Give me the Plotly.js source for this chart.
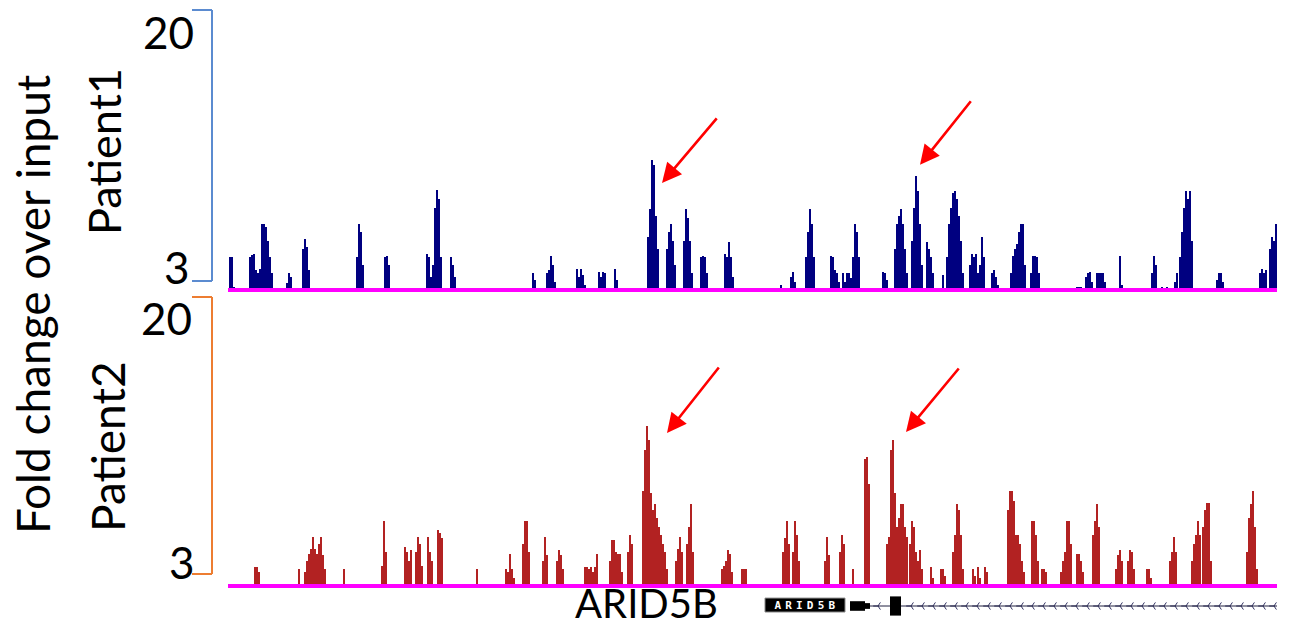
<!DOCTYPE html>
<html><head><meta charset="utf-8">
<script src="https://cdn.plot.ly/plotly-3.0.1.min.js"></script>
<style>html,body{margin:0;padding:0;background:#fff;overflow:hidden}#chart{width:1291px;height:629px}
.annotation[data-index="8"] text{letter-spacing:4.2px}</style>
</head><body><div id="chart"></div>
<script>
// ---- data (genomic bin position, fold change over input) ----
const p1Pos = [
  2,4,6, 22,24,26,28,30,32,34,36,38,40,42,44, 59,61,63, 75,77,79,81,
  129,131,133,135, 157,159,161, 199,201,203, 205,207,209,211,213, 223,225,227, 240, 275,
  305,307, 319,321,323,325,327, 349,351,353,355,357, 371,373,375,377, 387,389,392,
  420,422,424,426,428,430, 439,441,443,445,447, 456,458,460,462,464, 473,475,477,479,
  497,499,501,503,505, 512, 553, 563,565,567, 578,580,582,584,586, 603,605,607,609,611,
  615,617,619,621,623,625,627,629,631, 637, 655,657,659, 667,669,671,673,675,677,679,
  684,686,688,690,692,694, 699,701,703,705, 715, 719,721,723,725,727,729,731,733,735,
  742,744,746,748,750, 752,754,756, 764,766,768,770, 783,785,787,789,791,793,795,797,
  803,805,807,809,811, 849,851,853, 858,860,862,864, 869,871,873,875,877, 892,894,
  924,926,928, 934,939, 947,949, 952,954,956,958,960,962,964, 989,991,993,995, 1009,
  1032,1034,1036,1038, 1042,1044,1046,1048
];
const p1Fold = [
  5.0,5.0,3.2, 5.0,5.1,5.2,4.2,4.0,4.3,7.0,7.0,6.8,6.0,5.0,4.0, 3.4,4.0,3.8, 5.5,6.1,5.6,4.2,
  5.0,7.0,6.5,4.5, 5.0,5.06,4.5, 5.2,5.0,3.8, 4.5,8.0,9.07,8.5,5.0, 5.0,4.5,3.8, 3.1, 3.1,
  4.0,3.6, 4.0,4.2,5.06,4.5,3.5, 4.3,3.8,4.3,3.9,3.3, 4.1,3.8,4.1,4.0, 4.3,3.6,3.1,
  6.2,7.9,10.9,10.6,7.5,5.5, 5.5,6.5,7.0,6.0,4.5, 6.0,7.9,7.4,6.0,4.0, 5.0,5.06,5.0,4.0,
  5.2,5.0,5.9,5.0,3.8, 3.1, 3.3, 3.8,4.1,3.5, 5.0,6.5,7.9,7.0,5.0, 5.06,5.0,4.2,4.0,3.5,
  4.0,3.5,4.0,4.0,3.7,5.0,7.0,6.5,5.0, 3.1, 4.1,4.0,3.6, 5.5,7.0,7.5,7.9,7.0,5.5,4.0,
  6.0,8.0,9.9,9.0,7.0,4.5, 5.9,5.5,5.0,4.0, 3.9, 5.0,7.0,8.0,8.9,9.0,8.5,7.5,6.0,4.0,
  4.5,5.2,5.0,5.2,4.0, 4.5,6.2,5.0, 4.0,4.2,3.8,3.3, 4.0,5.06,5.5,5.8,6.5,7.0,7.0,4.5,
  4.0,5.06,5.06,5.0,4.0, 3.2,3.2,3.2, 3.8,4.0,4.1,3.5, 4.0,4.0,4.0,4.0,3.5, 5.06,3.3,
  4.0,5.06,4.5, 3.2,3.2, 3.5,4.0, 5.0,6.5,8.0,9.0,8.5,9.0,6.0, 3.6,4.0,4.0,3.5, 3.1,
  4.0,4.3,4.0,4.2, 5.5,6.2,6.0,7.0
];
const p2Pos = [
  27,29,31, 39, 71, 77,79,81,83,85,87,89,91,93,95,97, 116, 120, 154,156,158, 177,179,181,183,
  188,190,192,194, 200,202,204, 210,212,214, 249, 253, 278,280,282,284,286, 295,297,299,301,
  315,317,319, 329,331,333,335, 357,359,361,363,365,367,369, 373, 382,384,386,388,390,392,394,
  400,402,404, 415,417,419,421,423,425,427,429,431,433,435,437,439, 448,450,452,454, 459,461,463,465,
  494,496,498,500,502,504, 514,516,518, 555,557,559,561, 565,567,569,571, 597,599,601, 612,614,616, 625,
  637,639,641, 659,661,663,665,667,669,671,673,675,677,679, 682,684,686,688, 690,692,694, 703,705,
  713,715,717, 725,727,729,731,733,735, 745,747,750,752,757,759,
  780,782,784,786,788,790,792,794,796, 804,806,808,810, 814,816,818, 833,835,837,839,841,843,
  849,851,853,855, 865,867,869,871, 888,890,892,894, 900,902,904,906, 919,921,923, 942,944,946,948,
  964,966,968,970,972, 975,977,979,981,983, 1009, 1019,1021,1023,1025,1027,1029
];
const p2Fold = [
  4.1,4.1,3.8, 3.1, 4.0, 3.8,4.5,4.9,5.2,5.9,5.2,4.9,5.5,5.9,4.8,4.0, 4.0, 3.1, 4.2,6.8,5.0, 5.3,5.0,4.5,5.1,
  5.0,5.9,5.5,4.2, 5.9,5.0,4.5, 6.3,6.1,5.8, 4.0, 3.1, 4.0,3.8,4.9,4.0,3.5, 5.5,6.8,6.8,5.0,
  4.5,5.9,4.8, 4.5,5.1,4.8,4.0, 4.1,4.1,4.0,4.1,3.8,4.1,4.9, 3.1, 4.5,5.7,5.7,5.0,4.9,4.9,3.8,
  5.0,6.0,5.5, 8.6,11.0,12.4,11.6,8.5,7.5,7.8,7.0,6.5,6.0,5.5,5.0,4.0, 4.5,5.2,5.9,5.0, 5.5,6.5,7.8,5.0,
  4.0,4.2,4.5,5.1,4.9,3.8, 4.0,4.0,4.0, 5.0,5.8,6.8,5.5, 5.0,6.8,6.0,4.5, 4.5,5.9,4.8, 5.0,6.0,5.5, 4.0,
  10.5,10.6,9.0, 5.5,5.9,11.0,11.6,8.5,6.5,7.0,7.8,7.8,6.5,5.9, 5.5,6.8,6.5,5.0, 4.5,5.1,4.0, 4.1,3.5,
  4.0,4.0,3.6, 5.0,6.0,7.8,7.5,6.0,4.0, 4.0,3.6,4.1,3.5,4.1,3.8,
  7.5,8.6,8.6,8.0,6.0,6.0,5.5,4.5,3.8, 6.8,6.8,6.0,4.5, 4.0,4.0,3.8, 3.8,4.5,5.0,6.8,6.8,5.5,
  4.9,4.9,4.5,3.8, 6.0,6.8,7.8,6.5, 4.0,4.8,5.1,4.5, 4.5,5.1,5.0,4.0, 4.0,4.0,3.5, 4.5,5.0,5.9,5.0,
  4.5,5.5,6.0,6.8,6.0, 6.5,7.5,7.9,7.9,4.5, 3.1, 5.0,7.0,7.8,8.6,6.5,4.0
];
const trackNames = ['Patient1', 'Patient2'];
const yTickLabels = ['20', '3'];
const yAxisTitle = 'Fold change over input';
const geneName = 'ARID5B';
const exonStart = [622, 662];
const exonEnd = [642, 673];
const geneStart = 622, geneEnd = 1049;
const strandMarks = [650,683,694,705,716,727,738,749,760,771,782,793,804,815,826,837,848,859,870,881,892,903,914,925,936,947,958,969,980,991,1002,1013,1024,1035,1046];
const arrowX1 = [434, 692], arrowY1 = [9.5, 10.6];
const arrowX2 = [439, 678], arrowY2 = [12.0, 12.06];

if (p1Pos.length !== p1Fold.length || p2Pos.length !== p2Fold.length) {
  throw new Error('length mismatch p1 ' + p1Pos.length + '/' + p1Fold.length + ' p2 ' + p2Pos.length + '/' + p2Fold.length);
}

// ---- layout helpers ----
const W = 1291, H = 629;
const px = v => v / W, py = v => 1 - v / H;
const FONT = 'Lato, "Open Sans", "Noto Sans", sans-serif';
const XR = [0, 1050];
const xDom = [px(228), px(1278)];
const BW = 2.4;

const traces = [
  {type:'bar', x:p1Pos, y:p1Fold.map(v => v - 3), base:3, width:BW,
   marker:{color:'#000080', line:{width:0}}, xaxis:'x', yaxis:'y', hoverinfo:'skip'},
  {type:'bar', x:p2Pos, y:p2Fold.map(v => v - 3), base:3, width:BW,
   marker:{color:'#b22222', line:{width:0}}, xaxis:'x2', yaxis:'y2', hoverinfo:'skip'},
  {type:'scatter', mode:'markers', x:strandMarks, y:strandMarks.map(() => 0.5),
   marker:{symbol:'y-left', size:6, line:{width:1, color:'#303060'}, color:'#303060'},
   xaxis:'x3', yaxis:'y3', hoverinfo:'skip'}
];

const hiddenAx = (extra) => Object.assign({showgrid:false, zeroline:false, showticklabels:false,
  showline:false, ticks:'', fixedrange:true}, extra);

const shapes = [];
// baselines
shapes.push({type:'line', xref:'x', yref:'y', x0:XR[0], x1:1049, y0:3, y1:3, line:{color:'#ff00ff', width:4}, layer:'above'});
shapes.push({type:'line', xref:'x2', yref:'y2', x0:XR[0], x1:1049, y0:3, y1:3, line:{color:'#ff00ff', width:4}, layer:'above'});
// brackets
function bracket(top, bot, color) {
  const xl = px(192), xr = px(212);
  shapes.push({type:'line', xref:'paper', yref:'paper', x0:xr, x1:xr, y0:py(top), y1:py(bot), line:{color, width:2}});
  shapes.push({type:'line', xref:'paper', yref:'paper', x0:xl, x1:xr, y0:py(top), y1:py(top), line:{color, width:2}});
  shapes.push({type:'line', xref:'paper', yref:'paper', x0:xl, x1:xr, y0:py(bot), y1:py(bot), line:{color, width:2}});
}
bracket(10, 281, '#5b8bd0');
bracket(297, 574, '#ed7d31');
// gene model
shapes.push({type:'line', xref:'x3', yref:'y3', x0:geneStart, x1:geneEnd, y0:0.5, y1:0.5, line:{color:'#202040', width:1}});
shapes.push({type:'rect', xref:'x3', yref:'y3', x0:exonStart[0], x1:exonEnd[0]-5, y0:0.3, y1:0.7, fillcolor:'#000', line:{width:0}});
shapes.push({type:'rect', xref:'x3', yref:'y3', x0:exonEnd[0]-5, x1:exonEnd[0], y0:0.38, y1:0.62, fillcolor:'#000', line:{width:0}});
shapes.push({type:'rect', xref:'x3', yref:'y3', x0:exonStart[1], x1:exonEnd[1], y0:0.1, y1:0.9, fillcolor:'#000', line:{width:0}});
// gene label box
shapes.push({type:'rect', xref:'x3', yref:'y3', x0:537, x1:617, y0:0.25, y1:0.83, fillcolor:'#000', line:{color:'#888', width:1}});

const annotations = [];
const txt = (text, x, y, size, angle, yanchor) => annotations.push({text, xref:'paper', yref:'paper', x:px(x), y:py(y),
  xanchor:'center', yanchor:yanchor || 'middle', showarrow:false, textangle:angle || 0, font:{family:FONT, size, color:'#000'}});
txt(yAxisTitle, 32, 304, 46, -90);   // 0
txt(trackNames[0], 104, 152, 45, -90); // 1
txt(trackNames[1], 108, 447, 46, -90); // 2
txt(yTickLabels[0], 168, 32, 44);     // 3
txt(yTickLabels[1], 177, 267, 44);    // 4
txt(yTickLabels[0], 166, 318, 44);    // 5
txt(yTickLabels[1], 182, 562, 44);    // 6
txt(geneName, 646, 629, 40, 0, 'bottom'); // 7
annotations.push({text:'<b>' + geneName + '</b>', xref:'x3', yref:'y3', x:577 + 2, y:0.54, xanchor:'center', yanchor:'middle',
  showarrow:false, font:{family:'"DejaVu Sans Mono", monospace', size:11, color:'#fff'}}); // 8
// arrows
const arrow = (x, y, xa, ya, ax, ay) => annotations.push({text:'', x, y, xref:xa, yref:ya, ax, ay, showarrow:true,
  arrowhead:2, arrowsize:1.5, arrowwidth:2.6, arrowcolor:'#ff0000', standoff:0});
arrow(arrowX1[0], arrowY1[0], 'x', 'y', 56, -66);
arrow(arrowX1[1], arrowY1[1], 'x', 'y', 52, -65);
arrow(arrowX2[0], arrowY2[0], 'x2', 'y2', 53, -67);
arrow(arrowX2[1], arrowY2[1], 'x2', 'y2', 54, -65);

const layout = {
  width:W, height:H, autosize:false, margin:{l:0, r:0, t:0, b:0},
  paper_bgcolor:'#fff', plot_bgcolor:'rgba(0,0,0,0)', showlegend:false,
  bargap:0, barmode:'overlay',
  xaxis: hiddenAx({domain:xDom, range:XR, anchor:'y'}),
  yaxis: hiddenAx({domain:[py(294.9), py(10)], range:[2.7, 20], anchor:'x'}),
  xaxis2: hiddenAx({domain:xDom, range:XR, anchor:'y2'}),
  yaxis2: hiddenAx({domain:[py(591.1), py(297)], range:[2.7, 20], anchor:'x2'}),
  xaxis3: hiddenAx({domain:xDom, range:XR, anchor:'y3'}),
  yaxis3: hiddenAx({domain:[py(618), py(594)], range:[0, 1], anchor:'x3'}),
  shapes, annotations
};

Plotly.newPlot('chart', traces, layout, {staticPlot:true, displayModeBar:false});
</script></body></html>
